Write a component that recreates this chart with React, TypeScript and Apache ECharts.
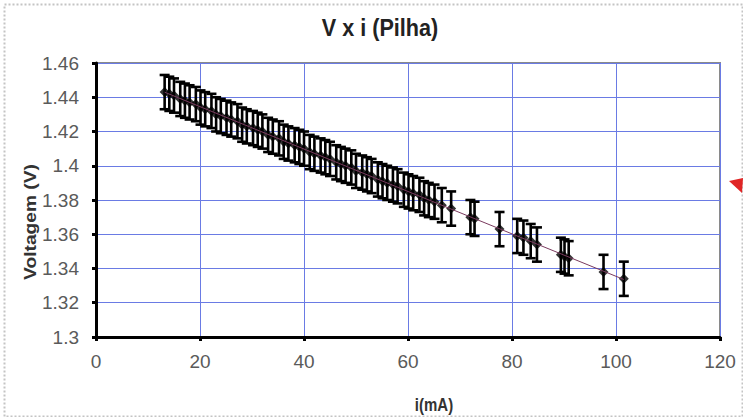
import React, { useEffect, useRef } from "react";
import * as echarts from "echarts";

// Battery discharge measurements: current (mA) and terminal voltage (V)
const current = [
  13.2, 14.1, 15.0, 16.2, 17.1, 18.0, 19.2, 20.1, 21.0, 22.2, 23.1, 24.0, 25.1, 26.0,
  27.2, 28.1, 29.0, 30.2, 31.1, 32.0, 33.1, 34.0, 35.2, 36.1, 37.0, 38.2, 39.1, 40.0,
  41.1, 42.0, 43.2, 44.1, 45.0, 46.2, 47.1, 48.0, 49.1, 50.0, 51.2, 52.1, 53.0, 54.2,
  55.1, 56.0, 57.1, 58.0, 59.2, 60.1, 61.0, 62.2, 63.1, 64.0, 65.1, 66.5, 68.3, 72.0,
  72.8, 77.6, 81.0, 82.2, 83.6, 84.8, 89.4, 90.1, 90.9, 97.6, 101.5,
];
const voltage = [
  1.443, 1.442, 1.441, 1.439, 1.438, 1.437, 1.436, 1.434, 1.433, 1.432, 1.43, 1.429, 1.428, 1.427,
  1.426, 1.424, 1.423, 1.422, 1.421, 1.42, 1.418, 1.417, 1.416, 1.414, 1.413, 1.412, 1.411, 1.41,
  1.408, 1.407, 1.406, 1.405, 1.404, 1.402, 1.401, 1.4, 1.399, 1.397, 1.396, 1.395, 1.394, 1.392,
  1.391, 1.39, 1.389, 1.388, 1.386, 1.385, 1.384, 1.383, 1.381, 1.38, 1.379, 1.377, 1.375, 1.37,
  1.369, 1.363, 1.359, 1.358, 1.356, 1.354, 1.348, 1.347, 1.346, 1.338, 1.334,
];
// Measurement uncertainty of the voltmeter (V)
const voltageError = 0.01;

const xTicks = { min: 0, max: 120, interval: 20 };
const yTicks = { min: 1.3, max: 1.46, interval: 0.02 };

const titleText = "V x i (Pilha)";
const xName = "i(mA)";
const yName = "Voltagem (V)";

// Least-squares line through the measurements
function linearFit(xs: number[], ys: number[]) {
  const n = xs.length;
  const mx = xs.reduce((a, b) => a + b, 0) / n;
  const my = ys.reduce((a, b) => a + b, 0) / n;
  let sxy = 0;
  let sxx = 0;
  for (let i = 0; i < n; i++) {
    sxy += (xs[i] - mx) * (ys[i] - my);
    sxx += (xs[i] - mx) * (xs[i] - mx);
  }
  const slope = sxy / sxx;
  return { slope, intercept: my - slope * mx };
}

const labelFont = "'Liberation Sans', Arial, sans-serif";
const boldFont = "'Liberation Sans', Arial, sans-serif";

export default function App() {
  const ref = useRef<HTMLDivElement>(null);

  useEffect(() => {
    document.body.style.margin = "0";
    if (!ref.current) return;
    const chart = echarts.init(ref.current, null, { renderer: "svg" });

    const fit = linearFit(current, voltage);
    const xFirst = Math.min(...current);
    const xLast = Math.max(...current);
    const trend = [
      [xFirst, fit.intercept + fit.slope * xFirst],
      [xLast, fit.intercept + fit.slope * xLast],
    ];

    const axisLabelStyle = {
      color: "#5a5a5a",
      fontSize: 19,
      fontFamily: labelFont,
    };

    chart.setOption({
      animation: false,
      backgroundColor: "#fff",
      grid: {
        left: 96,
        right: 23,
        top: 63,
        bottom: 80,
        containLabel: false,
        show: true,
        backgroundColor: "#fff",
        borderColor: "#8a8a8a",
        borderWidth: 2,
      },
      xAxis: {
        type: "value",
        min: xTicks.min,
        max: xTicks.max,
        interval: xTicks.interval,
        axisLine: { show: true, onZero: false, lineStyle: { color: "#000", width: 3 } },
        axisTick: { show: true, length: 4, lineStyle: { color: "#000", width: 3 } },
        axisLabel: { ...axisLabelStyle, margin: 15 },
        splitLine: { show: true, lineStyle: { color: "#6a7be4", width: 1 } },
      },
      yAxis: {
        type: "value",
        min: yTicks.min,
        max: yTicks.max,
        interval: yTicks.interval,
        axisLine: { show: true, onZero: false, lineStyle: { color: "#000", width: 3 } },
        axisTick: { show: true, length: 4, lineStyle: { color: "#000", width: 3 } },
        axisLabel: {
          ...axisLabelStyle,
          margin: 17,
          formatter: (v: number) => String(Number(v.toFixed(2))),
        },
        splitLine: { show: true, lineStyle: { color: "#6a7be4", width: 1 } },
      },
      series: [
        {
          type: "custom",
          name: "erro",
          data: current.map((c, i) => [c, voltage[i], voltageError]),
          encode: { x: 0, y: 1 },
          z: 3,
          renderItem: (_params: any, api: any) => {
            const x = api.value(0);
            const y = api.value(1);
            const e = api.value(2);
            const top = api.coord([x, y + e]);
            const bot = api.coord([x, y - e]);
            const hw = 5;
            const st = { stroke: "#000", lineWidth: 2.6 };
            return {
              type: "group",
              children: [
                { type: "line", shape: { x1: top[0], y1: top[1], x2: bot[0], y2: bot[1] }, style: st },
                { type: "line", shape: { x1: top[0] - hw, y1: top[1], x2: top[0] + hw, y2: top[1] }, style: st },
                { type: "line", shape: { x1: bot[0] - hw, y1: bot[1], x2: bot[0] + hw, y2: bot[1] }, style: st },
              ],
            };
          },
        },
        {
          type: "scatter",
          name: "V",
          data: current.map((c, i) => [c, voltage[i]]),
          symbol: "diamond",
          symbolSize: 10,
          itemStyle: { color: "#000" },
          z: 4,
        },
        {
          type: "line",
          name: "tendência",
          data: trend,
          showSymbol: false,
          symbol: "none",
          lineStyle: { color: "#7a3a5e", width: 1 },
          z: 5,
        },
      ],
      graphic: [
        {
          type: "rect",
          left: 2,
          top: 2,
          shape: { x: 0, y: 0, width: 738, height: 412 },
          style: { fill: "none", stroke: "#c4c4c4", lineWidth: 2, lineDash: [2, 2] },
          silent: true,
        },
        {
          type: "text",
          x: 380,
          y: 28,
          scaleX: 1.08,
          scaleY: 1.2,
          style: {
            text: titleText,
            font: `bold 20px ${boldFont}`,
            fill: "#222",
            align: "center",
            verticalAlign: "middle",
          },
        },
        {
          type: "text",
          x: 31,
          y: 222,
          rotation: Math.PI / 2,
          scaleX: 1.2,
          scaleY: 1.0,
          style: {
            text: yName,
            font: `bold 16px ${boldFont}`,
            fill: "#333",
            align: "center",
            verticalAlign: "middle",
          },
        },
        {
          type: "text",
          x: 434,
          y: 405,
          scaleX: 1.0,
          scaleY: 1.2,
          style: {
            text: xName,
            font: `bold 15px ${boldFont}`,
            fill: "#333",
            align: "center",
            verticalAlign: "middle",
          },
        },
        {
          type: "polygon",
          shape: { points: [[729, 181], [743, 178], [742, 193]] },
          style: { fill: "#e02525" },
          silent: true,
        },
      ],
    });

    return () => chart.dispose();
  }, []);

  return <div ref={ref} style={{ width: 743, height: 417 }} />;
}
